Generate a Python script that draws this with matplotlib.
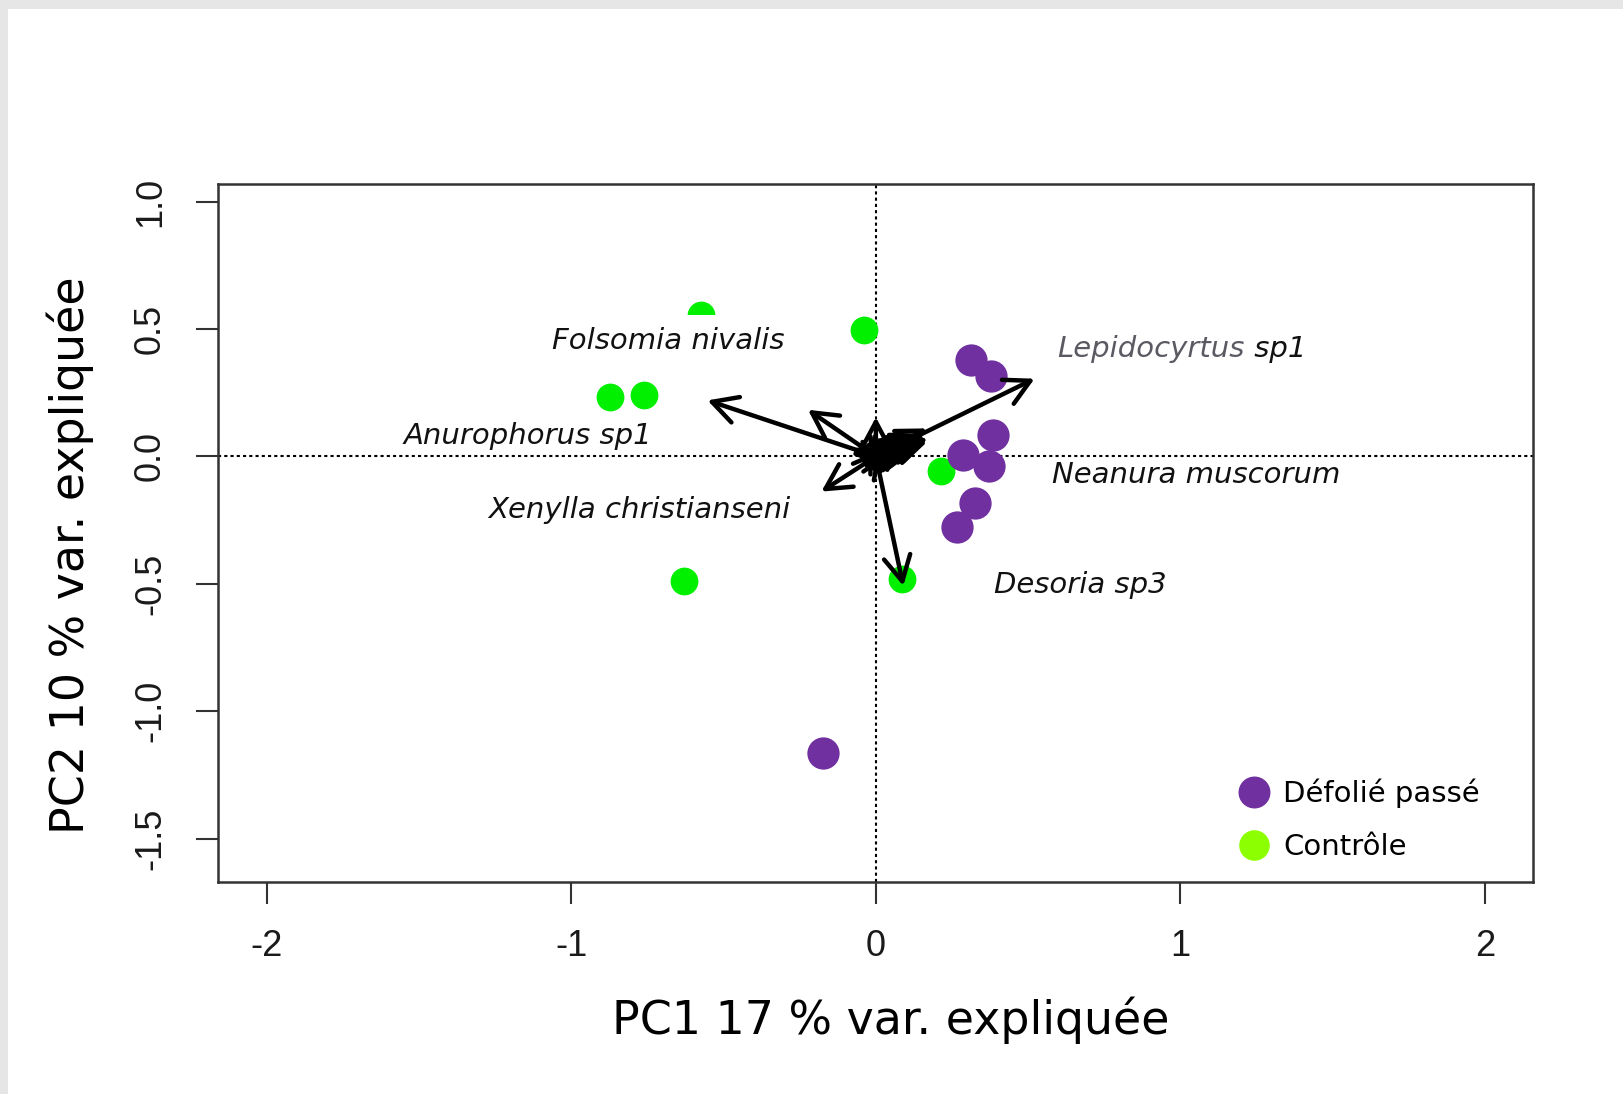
import matplotlib
matplotlib.use("Agg")
import matplotlib.pyplot as plt
from matplotlib.lines import Line2D
from matplotlib.patches import Rectangle

plt.rcParams["axes.unicode_minus"] = False

# sample scores (PC1, PC2)
controle_x = [-0.573, -0.039, -0.872, -0.760, 0.215, -0.631, 0.086]
controle_y = [0.555, 0.496, 0.232, 0.240, -0.057, -0.488, -0.480]
defolie_x = [0.311, 0.379, 0.385, 0.287, 0.372, 0.324, 0.266, -0.172]
defolie_y = [0.378, 0.317, 0.085, 0.004, -0.037, -0.183, -0.276, -1.163]

# species loadings (arrow tips)
arrow_x = [-0.553, -0.223, 0.0, -0.179, 0.521, 0.090,
           0.160, 0.140, 0.120, 0.100, 0.168, 0.083, -0.070, -0.053, 0.031,
           0.050, -0.026, 0.100, -0.040, 0.020, 0.170, 0.150, -0.080, -0.060,
           0.000, 0.030, -0.020, 0.167, 0.150, 0.130]
arrow_y = [0.220, 0.183, 0.154, -0.138, 0.305, -0.508,
           0.080, 0.075, 0.060, 0.050, 0.057, 0.049, 0.020, -0.024, -0.041,
           0.008, 0.057, -0.012, -0.050, 0.030, 0.070, 0.065, 0.030, 0.000,
           -0.060, -0.070, -0.050, 0.110, 0.090, 0.023]

species = ["Folsomia nivalis", "Anurophorus sp1", "Xenylla christianseni",
           "Neanura muscorum", "Desoria sp3"]
species_x = [-1.062, -1.552, -1.273, 0.579, 0.389]
species_y = [0.451, 0.081, -0.211, -0.073, -0.504]

purple = "#7030a0"
green = "#00f000"
green_leg = "#8cff00"
label_font = "DejaVu Sans"

fig = plt.figure(figsize=(16.24, 10.94), dpi=100)
fig.patch.set_facecolor("#e6e6e6")
fig.patches.append(Rectangle((8 / 1624, 0), 1, 1 - 9 / 1094, transform=fig.transFigure,
                             facecolor="white", edgecolor="none", zorder=-5))

ax = fig.add_axes([0.1342, 0.1938, 0.8097, 0.638])
ax.set_zorder(2)
ax.set_xlim(-2.16, 2.157)
ax.set_ylim(-1.67, 1.069)

ax.axhline(0, color="black", ls=(0, (1.5, 1.5)), lw=1.5, zorder=1)
ax.axvline(0, color="black", ls=(0, (1.5, 1.5)), lw=1.5, zorder=1)

ax.scatter(controle_x, controle_y, s=400, color=green, zorder=2, linewidths=0)
ax.scatter(defolie_x, defolie_y, s=540, color=purple, zorder=3, linewidths=0)

for x, y in zip(arrow_x, arrow_y):
    ax.annotate("", xy=(x, y), xytext=(0, 0),
                arrowprops=dict(arrowstyle="->,head_length=0.75,head_width=0.4",
                                color="black", lw=3.2, shrinkA=0, shrinkB=0,
                                mutation_scale=24),
                zorder=4)

for i, (name, x, y) in enumerate(zip(species, species_x, species_y)):
    kw = {}
    if i == 0:
        kw["bbox"] = dict(facecolor="white", edgecolor="none", pad=9)
    ax.text(x, y, name, fontsize=21, style="italic", family=label_font,
            ha="left", va="center", color="#111111", zorder=5, **kw)

lep = ax.text(0.596, 0.423, "Lepidocyrtus", fontsize=21, style="italic",
              family=label_font, ha="left", va="center", color="#5a5a62", zorder=5)
ax.annotate(" sp1", xy=(1, 0), xycoords=lep, ha="left", va="bottom",
            fontsize=21, style="italic", family=label_font, color="#111111", zorder=5)

ax.set_xticks([-2, -1, 0, 1, 2])
ax.set_yticks([-1.5, -1.0, -0.5, 0.0, 0.5, 1.0])
ax.set_yticklabels(["-1.5", "-1.0", "-0.5", "0.0", "0.5", "1.0"], rotation=90, va="center")
ax.tick_params(direction="out", length=16, width=1.5, color="#333333",
               labelsize=26, labelcolor="#1a1a1a")
ax.tick_params(axis="x", pad=18)
ax.tick_params(axis="y", pad=20)
for lab in ax.get_xticklabels() + ax.get_yticklabels():
    lab.set_family("Liberation Sans")
for sp in ax.spines.values():
    sp.set_linewidth(1.8)
    sp.set_color("#333333")

ax.set_xlabel("PC1 17 % var. expliquée", fontsize=33, family=label_font, va="center")
ax.xaxis.set_label_coords(0.512, -0.198)
ax.set_ylabel("PC2 10 % var. expliquée", fontsize=33, family=label_font, va="center", ha="center")
ax.yaxis.set_label_coords(-0.112, 0.468)

handles = [Line2D([], [], marker="o", ls="", markersize=22, color=purple),
           Line2D([], [], marker="o", ls="", markersize=21, color=green_leg)]
ax.legend(handles, ["Défolié passé", "Contrôle"], loc="center",
          bbox_to_anchor=(0.867, 0.089), frameon=False,
          prop={"family": label_font, "size": 21}, handletextpad=0.4,
          labelspacing=0.85, handlelength=1.2)

fig.savefig("out.png", dpi=100)
